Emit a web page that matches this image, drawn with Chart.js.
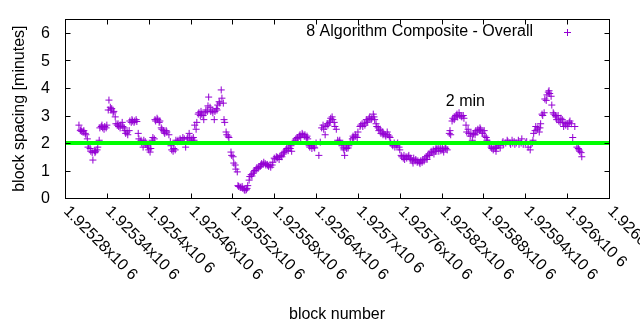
<!DOCTYPE html>
<html>
<head>
<meta charset="utf-8">
<script src="https://cdn.jsdelivr.net/npm/chart.js@4/dist/chart.umd.min.js"></script>
<style>
html,body{margin:0;padding:0;background:#fff;}
#wrap{width:640px;height:330px;}
</style>
</head>
<body>
<div id="wrap"><canvas id="c" width="640" height="330"></canvas></div>
<script>
// ---- data ----
const blockNumbers = [
1925300,1925302,1925303,1925304,1925306,1925307,1925309,1925310,1925312,1925313,1925314,1925316,1925317,1925319,1925320,1925322,1925323,1925324,1925326,1925327,
1925329,1925330,1925332,1925333,1925334,1925336,1925337,1925339,1925340,1925342,1925343,1925345,1925346,1925347,1925349,1925350,1925352,1925353,1925355,1925356,
1925357,1925359,1925360,1925362,1925363,1925365,1925366,1925367,1925369,1925370,1925372,1925373,1925375,1925376,1925377,1925379,1925380,1925382,1925383,1925385,
1925386,1925388,1925389,1925390,1925392,1925393,1925395,1925396,1925398,1925399,1925400,1925402,1925403,1925405,1925406,1925408,1925409,1925410,1925412,1925413,
1925415,1925416,1925418,1925419,1925421,1925422,1925423,1925425,1925426,1925429,1925431,1925432,1925433,1925435,1925436,1925438,1925439,1925441,1925442,1925445,
1925446,1925449,1925451,1925453,1925455,1925456,1925458,1925459,1925461,1925462,1925464,1925465,1925466,1925468,1925469,1925471,1925472,1925474,1925475,1925476,
1925478,1925479,1925481,1925482,1925484,1925485,1925486,1925488,1925489,1925491,1925492,1925494,1925495,1925497,1925498,1925499,1925501,1925502,1925504,1925505,
1925507,1925508,1925509,1925511,1925512,1925514,1925515,1925518,1925519,1925521,1925522,1925524,1925525,1925527,1925528,1925529,1925531,1925532,1925534,1925535,
1925537,1925538,1925540,1925541,1925542,1925544,1925545,1925547,1925548,1925550,1925551,1925552,1925554,1925555,1925557,1925558,1925560,1925561,1925562,1925564,
1925565,1925567,1925568,1925570,1925571,1925572,1925574,1925575,1925577,1925578,1925580,1925581,1925583,1925584,1925585,1925587,1925588,1925590,1925591,1925593,
1925594,1925595,1925597,1925598,1925600,1925601,1925603,1925604,1925605,1925608,1925610,1925611,1925613,1925614,1925616,1925617,1925618,1925620,1925621,1925623,
1925624,1925626,1925627,1925628,1925630,1925631,1925633,1925634,1925636,1925637,1925638,1925640,1925644,1925646,1925648,1925650,1925651,1925653,1925654,1925656,
1925657,1925659,1925660,1925661,1925663,1925664,1925666,1925667,1925669,1925671,1925673,1925674,1925677,1925679,1925680,1925681,1925683,1925684,1925686,1925687,
1925689,1925692,1925693,1925694,1925696,1925697,1925699,1925700,1925703,1925704,1925706,1925707,1925709,1925710,1925712,1925713,1925714,1925716,1925717,1925719,
1925720,1925722,1925723,1925724,1925726,1925727,1925729,1925730,1925732,1925733,1925735,1925736,1925737,1925739,1925740,1925742,1925743,1925745,1925746,1925747,
1925749,1925750,1925752,1925753,1925755,1925756,1925757,1925759,1925760,1925762,1925763,1925765,1925766,1925767,1925769,1925770,1925772,1925773,1925775,1925776,
1925778,1925779,1925780,1925782,1925783,1925785,1925786,1925788,1925789,1925790,1925792,1925793,1925795,1925796,1925798,1925799,1925800,1925802,1925803,1925805,
1925806,1925808,1925809,1925811,1925812,1925813,1925815,1925816,1925818,1925819,1925821,1925822,1925823,1925825,1925826,1925828,1925831,1925832,1925833,1925835,
1925836,1925838,1925839,1925841,1925842,1925843,1925845,1925846,1925848,1925849,1925851,1925852,1925855,1925856,1925858,1925859,1925861,1925862,1925864,1925865,
1925866,1925868,1925869,1925871,1925872,1925874,1925875,1925876,1925878,1925879,1925881,1925882,1925884,1925885,1925886,1925888,1925889,1925891,1925892,1925894,
1925895,1925897,1925898,1925899,1925901,1925902,1925904,1925907,1925908,1925909,1925912,1925914,1925915,1925918,1925919,1925921,1925922,1925924,1925925,1925927,
1925930,1925931,1925934,1925935,1925937,1925940,1925942,1925944,1925947,1925948,1925950,1925951,1925952,1925954,1925955,1925957,1925958,1925960,1925961,1925962,
1925964,1925965,1925967,1925968,1925970,1925971,1925973,1925974,1925975,1925977,1925978,1925980,1925981,1925983,1925984,1925985,1925987,1925988,1925990,1925991,
1925993,1925994,1925995,1925997,1925998,1926000,1926001,1926003,1926004,1926006,1926008,1926011,1926014,1926016,1926017,1926018,1926020,1926021
];
const blockSpacing = [
2.65,2.45,2.5,2.42,2.4,2.45,2.35,2.3,2.15,1.85,1.95,1.8,1.7,1.65,1.38,1.72,1.65,1.7,1.75,1.85,
2.1,2.55,2.6,2.65,2.55,2.5,2.6,2.55,2.65,3.2,3.56,3.3,3.2,3.25,3.1,3.15,2.95,2.7,2.65,2.7,
2.6,2.55,2.65,2.75,2.6,2.55,2.45,2.35,2.4,2.3,2.45,2.8,2.75,2.85,2.8,2.75,2.8,2.85,2.78,2.35,
2.15,2.05,2.1,2.0,1.85,2.1,2.05,1.95,1.9,1.85,1.75,1.67,1.8,2.1,2.2,2.15,2.85,2.8,2.9,2.85,
2.75,2.8,2.55,2.5,2.45,2.4,2.35,2.45,2.4,2.3,2.05,1.9,1.75,1.7,1.8,1.75,2.1,2.05,2.1,2.15,
2.1,2.2,2.15,1.85,2.15,2.2,2.35,2.2,2.1,2.15,2.2,2.1,2.65,2.5,2.75,3.05,3.1,3.0,3.15,3.05,
3.0,2.85,3.1,3.2,3.15,3.35,3.67,3.3,3.15,3.2,3.1,2.85,3.15,3.25,3.2,3.38,3.5,3.45,3.93,3.63,
3.45,2.85,2.75,2.4,2.3,2.25,2.2,1.67,1.55,1.5,1.27,1.2,1.05,0.95,0.45,0.42,0.4,0.38,0.42,0.35,
0.3,0.28,0.3,0.35,0.45,0.65,0.78,0.85,0.8,0.9,0.95,1.0,1.05,1.1,1.08,1.12,1.15,1.2,1.25,1.22,
1.3,1.25,1.2,1.22,1.18,1.15,1.2,1.12,1.2,1.3,1.45,1.42,1.5,1.45,1.48,1.4,1.52,1.55,1.5,1.6,
1.65,1.7,1.75,1.8,1.72,1.85,1.8,1.9,1.7,2.05,2.1,2.15,2.2,2.18,2.25,2.3,2.2,2.35,2.3,2.25,
2.3,2.2,2.25,2.15,1.9,1.85,1.9,1.8,1.95,1.85,1.82,2.0,1.55,2.03,2.55,2.65,2.5,2.3,2.6,2.7,
2.65,2.75,2.8,2.9,2.95,2.85,2.75,2.6,2.5,2.1,2.05,2.1,1.9,1.82,1.75,1.55,1.85,1.8,1.82,1.9,
2.05,2.15,2.25,2.2,2.3,2.25,2.2,2.4,2.6,2.65,2.7,2.6,2.72,2.65,2.85,2.75,2.8,2.9,2.95,2.85,
2.9,3.05,2.95,2.85,2.7,2.6,2.55,2.45,2.5,2.35,2.4,2.3,2.35,2.3,2.25,2.4,2.3,2.25,2.2,2.0,
1.95,1.9,2.0,1.85,1.95,1.9,2.0,1.85,1.75,1.55,1.5,1.45,1.55,1.4,1.5,1.45,1.5,1.55,1.45,1.4,
1.35,1.27,1.45,1.35,1.4,1.3,1.35,1.3,1.25,1.35,1.3,1.4,1.35,1.45,1.5,1.4,1.55,1.6,1.55,1.7,
1.65,1.75,1.6,1.7,1.8,1.75,1.85,1.7,1.8,1.72,1.8,1.75,1.67,1.85,1.8,1.75,2.35,2.45,2.3,2.8,
2.9,2.85,2.95,3.0,3.05,2.95,3.1,3.0,2.98,2.95,3.0,2.9,2.65,2.4,2.5,2.35,2.25,2.35,2.1,2.3,
2.35,2.3,2.45,2.4,2.5,2.45,2.55,2.5,2.4,2.35,2.45,2.25,2.2,2.1,2.05,2.0,1.95,1.85,1.8,1.75,
1.85,1.8,1.7,1.85,1.95,1.9,1.82,2.0,2.05,1.95,2.0,2.1,2.05,2.0,1.95,2.1,2.0,2.05,1.95,2.0,
2.1,1.95,2.0,2.15,1.95,2.0,2.05,1.85,1.75,1.95,2.0,2.1,2.35,2.45,2.6,2.5,2.55,2.4,2.55,2.7,
3.05,3.0,3.1,3.6,3.55,3.75,3.85,3.9,3.8,3.7,3.38,3.1,3.05,3.0,2.95,2.85,3.0,2.8,2.75,2.9,
2.85,2.75,2.6,2.7,2.65,2.7,2.6,2.75,2.8,2.7,2.2,2.6,1.85,1.8,1.75,1.7,1.65,1.5
];
const targetBlocks = [1925280, 1926060];
const targetSpacing = [2, 2];
const xTickValues = [1925280,1925340,1925400,1925460,1925520,1925580,1925640,1925700,1925760,1925820,1925880,1925940,1926000,1926060];
const xTickLabels = ["1.92528x10 6","1.92534x10 6","1.9254x10 6","1.92546x10 6","1.92552x10 6","1.92558x10 6","1.92564x10 6","1.9257x10 6","1.92576x10 6","1.92582x10 6","1.92588x10 6","1.92594x10 6","1.926x10 6","1.92606x10 6"];
const yTickValues = [0,1,2,3,4,5,6];
const yTickLabels = ["0","1","2","3","4","5","6"];
const seriesName = "8 Algorithm Composite - Overall";
const noteText = "2 min";
const notePos = {x: 1925826, y: 3.5};
const xTitle = "block number";
const yTitle = "block spacing [minutes]";
</script>
<script>
const FONT = '16px "Liberation Sans", Arial, sans-serif';
const PURPLE = '#9400d3';
const pts = blockNumbers.map((b, i) => ({x: b, y: blockSpacing[i]}));
const target = targetBlocks.map((b, i) => ({x: b, y: targetSpacing[i]}));

function drawPlus(ctx, x, y, r) {
  ctx.beginPath();
  ctx.moveTo(x - r, y); ctx.lineTo(x + r, y);
  ctx.moveTo(x, y - r); ctx.lineTo(x, y + r);
  ctx.stroke();
}

const frame = {
  id: 'frame',
  afterDraw(chart) {
    const ctx = chart.ctx;
    const xs = chart.scales.x, ys = chart.scales.y;
    const a = chart.chartArea;
    const L = Math.round(a.left) + 0.5, R = Math.round(a.right) + 0.5;
    const T = Math.round(a.top) + 0.5, B = Math.round(a.bottom) + 0.5;
    ctx.save();
    ctx.strokeStyle = '#000';
    ctx.lineWidth = 1;
    ctx.strokeRect(L, T, R - L, B - T);
    const tl = 5;
    ctx.beginPath();
    xTickValues.forEach(v => {
      const px = Math.round(xs.getPixelForValue(v)) + 0.5;
      ctx.moveTo(px, B); ctx.lineTo(px, B - tl);
      ctx.moveTo(px, T); ctx.lineTo(px, T + tl);
    });
    yTickValues.forEach(v => {
      const py = Math.round(ys.getPixelForValue(v)) + 0.5;
      ctx.moveTo(L, py); ctx.lineTo(L + tl, py);
      ctx.moveTo(R, py); ctx.lineTo(R - tl, py);
    });
    ctx.stroke();

    ctx.fillStyle = '#000';
    ctx.font = FONT;
    // y tick labels
    ctx.textAlign = 'right';
    ctx.textBaseline = 'middle';
    yTickValues.forEach((v, i) => {
      ctx.fillText(yTickLabels[i], a.left - 15, ys.getPixelForValue(v) + 1);
    });
    // x tick labels rotated
    ctx.textAlign = 'left';
    xTickValues.forEach((v, i) => {
      const px = xs.getPixelForValue(v);
      ctx.save();
      ctx.translate(px + 1, a.bottom + 11);
      ctx.rotate(Math.PI / 4);
      ctx.fillText(xTickLabels[i], 0, 0);
      ctx.restore();
    });
    // axis titles
    ctx.textAlign = 'center';
    ctx.fillText(xTitle, (a.left + a.right) / 2, 315);
    ctx.save();
    ctx.translate(20, (a.top + a.bottom) / 2);
    ctx.rotate(-Math.PI / 2);
    ctx.fillText(yTitle, 0, 0);
    ctx.restore();
    // legend
    ctx.textAlign = 'right';
    ctx.fillText(seriesName, 533, 32);
    ctx.strokeStyle = PURPLE;
    drawPlus(ctx, 567.5, 32.5, 3.5);
    // note
    ctx.textAlign = 'left';
    ctx.fillStyle = '#000';
    ctx.fillText(noteText, xs.getPixelForValue(notePos.x), ys.getPixelForValue(notePos.y));
    ctx.restore();
  }
};

new Chart(document.getElementById('c'), {
  type: 'scatter',
  data: {
    datasets: [
      {
        type: 'line',
        label: 'target',
        data: target,
        borderColor: '#00ff00',
        borderWidth: 4,
        pointRadius: 0,
        order: 0
      },
      {
        label: seriesName,
        data: pts,
        pointStyle: 'cross',
        pointRadius: 3.5,
        pointBorderWidth: 1,
        borderColor: PURPLE,
        backgroundColor: PURPLE,
        showLine: false,
        order: 1
      }
    ]
  },
  options: {
    responsive: false,
    animation: false,
    devicePixelRatio: 1,
    layout: {padding: {left: 65, right: 31, top: 19.25, bottom: 132}},
    plugins: {legend: {display: false}, tooltip: {enabled: false}},
    scales: {
      x: {type: 'linear', display: false, min: 1925280, max: 1926060},
      y: {type: 'linear', display: false, min: 0, max: 6.5}
    }
  },
  plugins: [frame]
});
</script>
</body>
</html>
